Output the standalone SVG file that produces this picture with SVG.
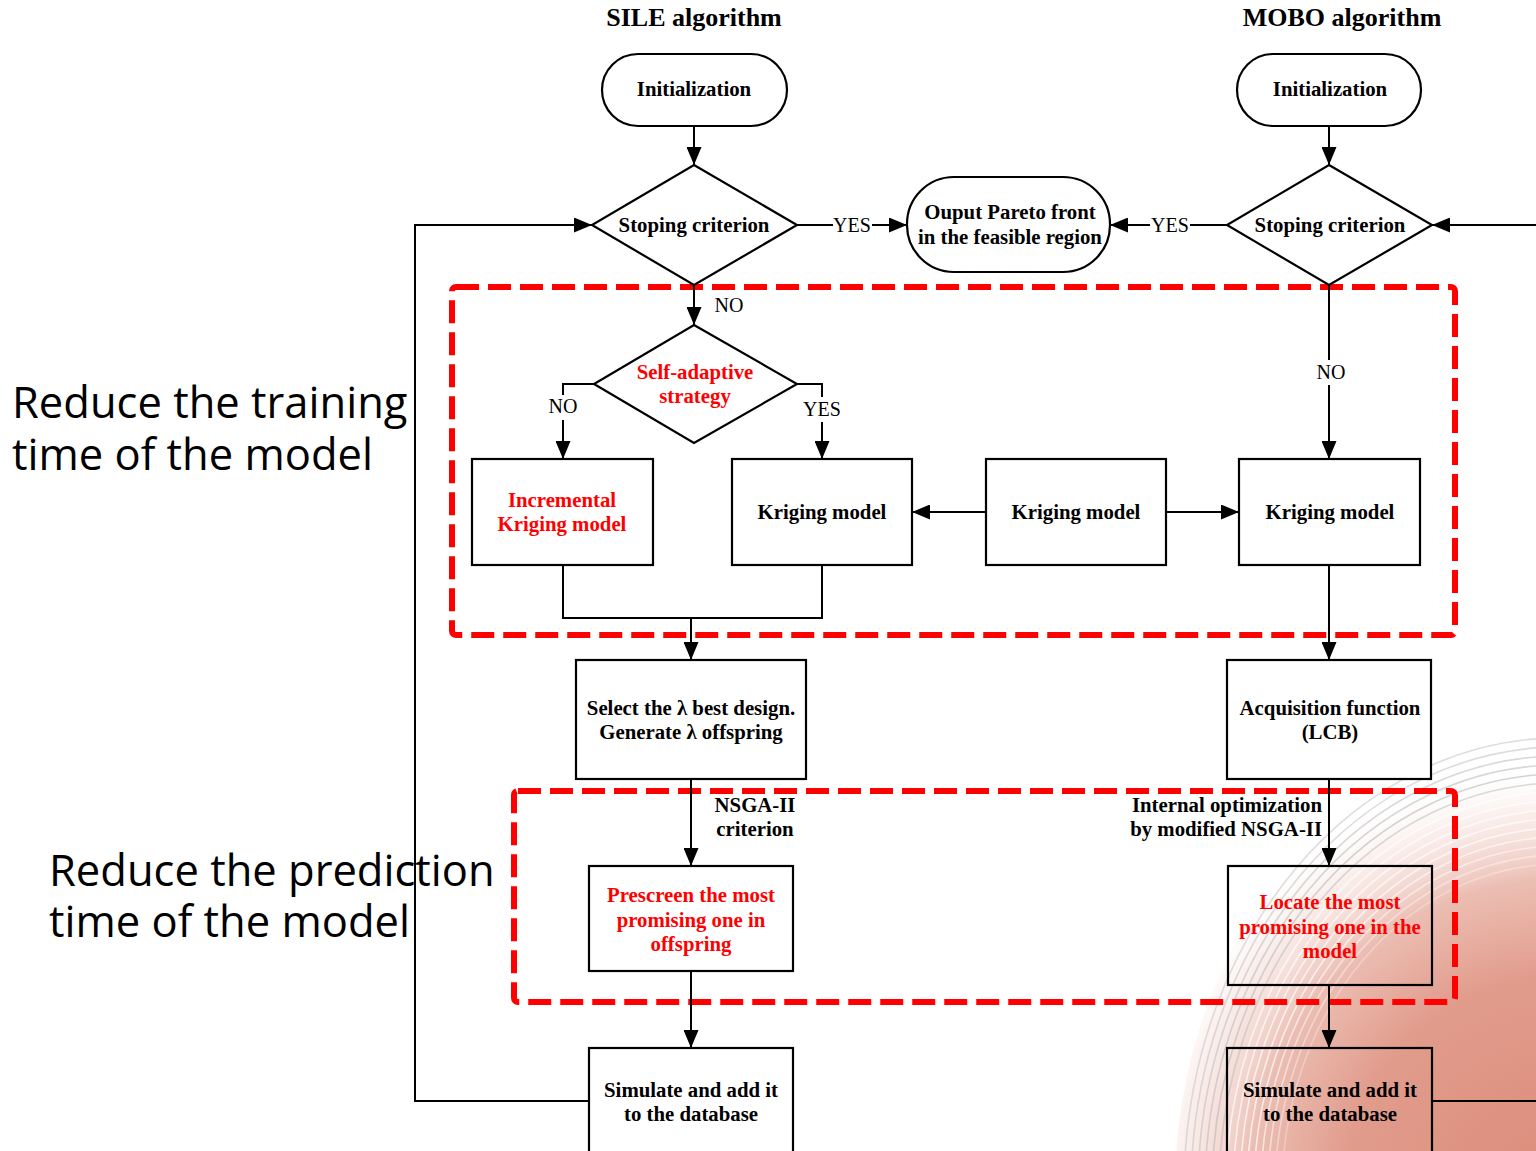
<svg xmlns="http://www.w3.org/2000/svg" width="1536" height="1151" viewBox="0 0 1536 1151">
  <style>
    .box { fill: #fff; stroke: #000; stroke-width: 2.2; }
    .open { fill: none; stroke: #000; stroke-width: 2.2; }
    .edge { fill: none; stroke: #000; stroke-width: 2; }
    .zone { fill: none; stroke: #ff0000; stroke-width: 6; stroke-dasharray: 23 9; stroke-linejoin: round; }
    .t { font-family: "Liberation Serif", "Times New Roman", serif; font-weight: bold; font-size: 20.8px; text-anchor: middle; fill: #000; }
    .end { text-anchor: end; }
    .red { fill: #ff0000; }
    .lbl { font-family: "Liberation Serif", "Times New Roman", serif; font-size: 20px; text-anchor: middle; fill: #000; }
    .title { font-family: "Liberation Serif", "Times New Roman", serif; font-weight: bold; font-size: 26px; text-anchor: middle; fill: #000; }
    .note { font-family: "Open Sans", "Noto Sans", sans-serif; font-size: 43.5px; fill: #000; }
  </style>
  <defs>
    <marker id="arrow" markerUnits="userSpaceOnUse" markerWidth="19" markerHeight="15" refX="18" refY="7.5" orient="auto">
      <path d="M0,0 L18,7.5 L0,15 z" fill="#000"/>
    </marker>
    <radialGradient id="wash" cx="1560" cy="1190" r="430" gradientUnits="userSpaceOnUse">
      <stop offset="0" stop-color="#dc8c7a"/>
      <stop offset="0.5" stop-color="#e19c8c"/>
      <stop offset="0.72" stop-color="#e8b2a5" stop-opacity="0.85"/>
      <stop offset="0.88" stop-color="#f3d6cf" stop-opacity="0.4"/>
      <stop offset="1" stop-color="#ffffff" stop-opacity="0"/>
    </radialGradient>
    <clipPath id="page"><rect x="0" y="0" width="1536" height="1151"/></clipPath>
  </defs>

  <rect width="1536" height="1151" fill="#fff"/>

  <!-- decorative ripple backdrop, lower right -->
  <g id="backdrop" clip-path="url(#page)">
    <ellipse cx="1560" cy="1190" rx="385" ry="460" fill="url(#wash)"/>
    <g fill="none" stroke-width="1.6">
      <ellipse cx="1560" cy="1190" rx="376" ry="452" stroke="#c8c8c8" stroke-opacity="0.6"/>
      <ellipse cx="1560" cy="1190" rx="369" ry="443" stroke="#c4c4c4" stroke-opacity="0.6"/>
      <ellipse cx="1560" cy="1190" rx="362" ry="434" stroke="#c0c0c0" stroke-opacity="0.6"/>
      <ellipse cx="1560" cy="1190" rx="355" ry="425" stroke="#bcbcbc" stroke-opacity="0.6"/>
      <ellipse cx="1560" cy="1190" rx="348" ry="416" stroke="#b8b8b8" stroke-opacity="0.6"/>
      <ellipse cx="1560" cy="1190" rx="341" ry="407" stroke="#b8b8b8" stroke-opacity="0.5"/>
      <ellipse cx="1560" cy="1190" rx="334" ry="398" stroke="#fff" stroke-opacity="0.7"/>
      <ellipse cx="1560" cy="1190" rx="327" ry="389" stroke="#fff" stroke-opacity="0.7"/>
      <ellipse cx="1560" cy="1190" rx="320" ry="380" stroke="#fff" stroke-opacity="0.7"/>
      <ellipse cx="1560" cy="1190" rx="313" ry="371" stroke="#fff" stroke-opacity="0.7"/>
      <ellipse cx="1560" cy="1190" rx="306" ry="362" stroke="#fff" stroke-opacity="0.7"/>
      <ellipse cx="1560" cy="1190" rx="299" ry="353" stroke="#fff" stroke-opacity="0.6"/>
      <ellipse cx="1560" cy="1190" rx="292" ry="344" stroke="#fff" stroke-opacity="0.5"/>
      <ellipse cx="1560" cy="1190" rx="285" ry="335" stroke="#fff" stroke-opacity="0.4"/>
      <ellipse cx="1560" cy="1190" rx="278" ry="326" stroke="#fff" stroke-opacity="0.3"/>
    </g>
  </g>

  <!-- column headings -->
  <text class="title" x="694" y="26">SILE algorithm</text>
  <text class="title" x="1342" y="26">MOBO algorithm</text>

  <!-- side notes -->
  <text class="note" x="12" y="418">Reduce the training</text>
  <text class="note" x="12" y="470">time of the model</text>
  <text class="note" x="49" y="886">Reduce the prediction</text>
  <text class="note" x="49" y="937">time of the model</text>

  <!-- dashed highlight zones -->
  <rect class="zone" x="452" y="287" width="1003" height="348" rx="4"/>
  <rect class="zone" x="514" y="791" width="941" height="211" rx="4"/>

  <!-- connectors -->
  <g id="connectors">
    <path class="edge" d="M694,126 V165" marker-end="url(#arrow)"/>
    <path class="edge" d="M1329,126 V165" marker-end="url(#arrow)"/>
    <path class="edge" d="M797,225 H833 M872,225 H907" marker-end="url(#arrow)"/>
    <path class="edge" d="M1227,225 H1190 M1150,225 H1110" marker-end="url(#arrow)"/>
    <path class="edge" d="M589,1101 H415 V225 H592" marker-end="url(#arrow)"/>
    <path class="edge" d="M1536,225 H1432" marker-end="url(#arrow)"/>
    <path class="edge" d="M1432,1101 H1536"/>
    <path class="edge" d="M694,285 V325" marker-end="url(#arrow)"/>
    <path class="edge" d="M594,384 H563 V395 M563,420 V459" marker-end="url(#arrow)"/>
    <path class="edge" d="M797,384 H822 V397 M822,422 V459" marker-end="url(#arrow)"/>
    <path class="edge" d="M1329,285 V360 M1329,385 V459" marker-end="url(#arrow)"/>
    <path class="edge" d="M986,512 H912" marker-end="url(#arrow)"/>
    <path class="edge" d="M1166,512 H1239" marker-end="url(#arrow)"/>
    <path class="edge" d="M563,565 V618 H822 V565"/>
    <path class="edge" d="M691,618 V660" marker-end="url(#arrow)"/>
    <path class="edge" d="M1329,565 V660" marker-end="url(#arrow)"/>
    <path class="edge" d="M691,779 V866" marker-end="url(#arrow)"/>
    <path class="edge" d="M1329,779 V866" marker-end="url(#arrow)"/>
    <path class="edge" d="M691,971 V1048" marker-end="url(#arrow)"/>
    <path class="edge" d="M1329,985 V1048" marker-end="url(#arrow)"/>

    <text class="lbl" x="852" y="232">YES</text>
    <text class="lbl" x="1170" y="232">YES</text>
    <text class="lbl" x="729" y="312">NO</text>
    <text class="lbl" x="563" y="413">NO</text>
    <text class="lbl" x="822" y="416">YES</text>
    <text class="lbl" x="1331" y="379">NO</text>
    <text class="t" x="755" y="812">NSGA-II</text>
    <text class="t" x="755" y="836">criterion</text>
    <text class="t end" x="1322" y="812">Internal optimization</text>
    <text class="t end" x="1322" y="836">by modified NSGA-II</text>
  </g>

  <!-- SILE column -->
  <g id="sile-init">
    <rect class="box" x="602" y="54" width="185" height="72" rx="36"/>
    <text class="t" x="694" y="96">Initialization</text>
  </g>
  <g id="sile-stop">
    <path class="box" d="M694,165 L797,225 L694,285 L592,225 Z"/>
    <text class="t" x="694" y="232">Stoping criterion</text>
  </g>
  <g id="self-adaptive">
    <path class="box" d="M694,325 L797,384 L694,443 L594,384 Z"/>
    <text class="t red" x="695" y="379">Self-adaptive</text>
    <text class="t red" x="695" y="403">strategy</text>
  </g>
  <g id="incremental-kriging">
    <rect class="box" x="472" y="459" width="181" height="106"/>
    <text class="t red" x="562" y="507">Incremental</text>
    <text class="t red" x="562" y="531">Kriging model</text>
  </g>
  <g id="sile-kriging">
    <rect class="box" x="732" y="459" width="180" height="106"/>
    <text class="t" x="822" y="519">Kriging model</text>
  </g>
  <g id="select-best">
    <rect class="box" x="576" y="660" width="230" height="119"/>
    <text class="t" x="691" y="715">Select the λ best design.</text>
    <text class="t" x="691" y="739">Generate λ offspring</text>
  </g>
  <g id="prescreen">
    <rect class="box" x="589" y="866" width="204" height="105"/>
    <text class="t red" x="691" y="902">Prescreen the most</text>
    <text class="t red" x="691" y="927">promising one in</text>
    <text class="t red" x="691" y="951">offspring</text>
  </g>
  <g id="sile-simulate">
    <rect class="box" x="589" y="1048" width="204" height="110"/>
    <text class="t" x="691" y="1097">Simulate and add it</text>
    <text class="t" x="691" y="1121">to the database</text>
  </g>

  <!-- shared -->
  <g id="pareto-output">
    <rect class="box" x="907" y="177" width="203" height="95" rx="47"/>
    <text class="t" x="1010" y="219">Ouput Pareto front</text>
    <text class="t" x="1010" y="244">in the feasible region</text>
  </g>
  <g id="shared-kriging">
    <rect class="box" x="986" y="459" width="180" height="106"/>
    <text class="t" x="1076" y="519">Kriging model</text>
  </g>

  <!-- MOBO column -->
  <g id="mobo-init">
    <rect class="box" x="1237" y="54" width="184" height="72" rx="36"/>
    <text class="t" x="1330" y="96">Initialization</text>
  </g>
  <g id="mobo-stop">
    <path class="box" d="M1329,165 L1432,225 L1329,285 L1227,225 Z"/>
    <text class="t" x="1330" y="232">Stoping criterion</text>
  </g>
  <g id="mobo-kriging">
    <rect class="box" x="1239" y="459" width="181" height="106"/>
    <text class="t" x="1330" y="519">Kriging model</text>
  </g>
  <g id="acquisition">
    <rect class="box" x="1227" y="660" width="204" height="119"/>
    <text class="t" x="1330" y="715">Acquisition function</text>
    <text class="t" x="1330" y="739">(LCB)</text>
  </g>
  <g id="locate">
    <rect class="open" x="1228" y="866" width="204" height="119"/>
    <text class="t red" x="1330" y="909">Locate the most</text>
    <text class="t red" x="1330" y="934">promising one in the</text>
    <text class="t red" x="1330" y="958">model</text>
  </g>
  <g id="mobo-simulate">
    <rect class="open" x="1227" y="1048" width="205" height="110"/>
    <text class="t" x="1330" y="1097">Simulate and add it</text>
    <text class="t" x="1330" y="1121">to the database</text>
  </g>
</svg>
